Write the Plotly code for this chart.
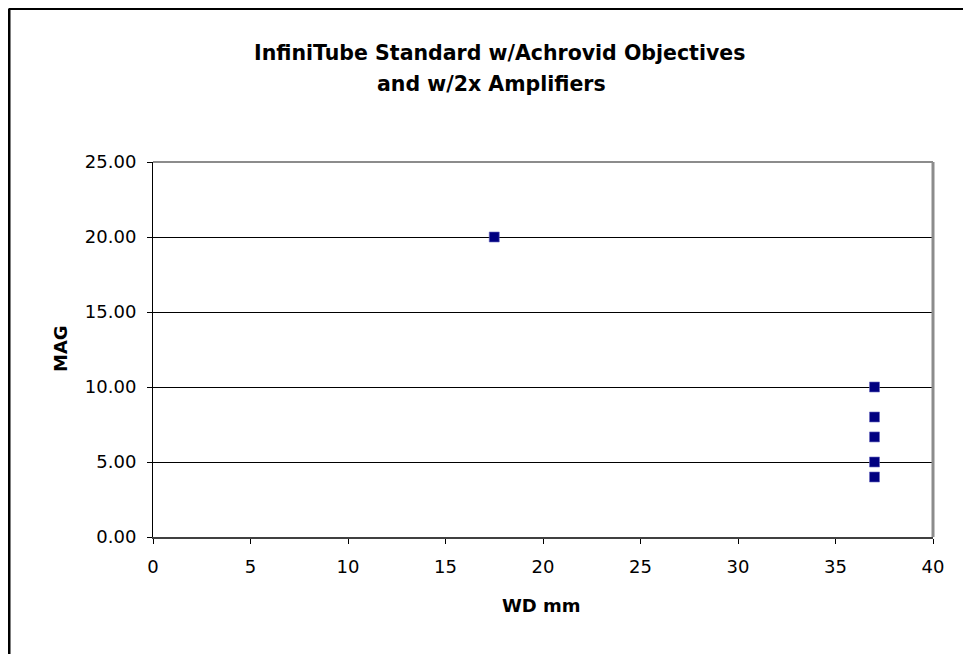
import plotly.graph_objects as go

# Data
wd_mm = [17.5, 37, 37, 37, 37, 37]
mag = [20.0, 10.0, 8.0, 6.67, 5.0, 4.0]

title_lines = ["InfiniTube Standard w/Achrovid Objectives", "and w/2x Amplifiers"]
x_title = "WD mm"
y_title = "MAG"

OFF = 8  # page body margin
W, H = 971 - OFF, 654 - OFF
L, R, T, B = 153 - OFF, 38, 162 - OFF, 117
pw, ph = W - L - R, H - T - B

def px(x):  # screen x -> paper
    return (x - OFF - L) / pw

def py(y):  # screen y -> paper
    return 1 - (y - OFF - T) / ph

fig = go.Figure()
fig.add_trace(go.Scatter(
    x=wd_mm, y=mag, mode="markers",
    marker=dict(symbol="square", size=10, color="#000080",
                line=dict(width=0.6, color="#6a6ac0")),
    showlegend=False, hoverinfo="x+y",
))

font = "DejaVu Sans, Arial, sans-serif"

fig.update_layout(
    width=W, height=H,
    margin=dict(l=L, r=R, t=T, b=B),
    paper_bgcolor="white", plot_bgcolor="white",
    font=dict(family=font, size=18, color="black"),
    showlegend=False,
    xaxis=dict(range=[0, 40], tick0=0, dtick=5, showgrid=False, zeroline=False,
               showline=True, linecolor="#404040", linewidth=2,
               ticks="outside", ticklen=5, tickcolor="black", tickwidth=1,
               tickfont=dict(size=18), ticklabelstandoff=7),
    yaxis=dict(range=[0, 25], tick0=0, dtick=5, tickformat=".2f",
               showgrid=True, gridcolor="black", gridwidth=1, zeroline=False,
               showline=True, linecolor="black", linewidth=1,
               ticks="outside", ticklen=5, tickcolor="black", tickwidth=1,
               tickfont=dict(size=18), ticklabelstandoff=7),
    shapes=[
        dict(type="line", xref="paper", yref="paper", x0=0, x1=1, y0=1, y1=1,
             line=dict(color="#8c8c8c", width=2), layer="above"),
        dict(type="line", xref="paper", yref="paper", x0=1, x1=1, y0=0, y1=1,
             line=dict(color="#8c8c8c", width=3), layer="above"),
        dict(type="line", xref="paper", yref="paper", x0=px(9), x1=px(980),
             y0=py(8.5), y1=py(8.5), line=dict(color="black", width=3)),
        dict(type="line", xref="paper", yref="paper", x0=px(9), x1=px(9),
             y0=py(8.5), y1=py(700), line=dict(color="black", width=3)),
    ],
    annotations=[
        dict(text="<b>%s</b>" % title_lines[0], xref="paper", yref="paper",
             x=px(499), y=py(53), xanchor="center", yanchor="middle",
             showarrow=False, font=dict(size=20.5)),
        dict(text="<b>%s</b>" % title_lines[1], xref="paper", yref="paper",
             x=px(491), y=py(84), xanchor="center", yanchor="middle",
             showarrow=False, font=dict(size=20.5)),
        dict(text="<b>%s</b>" % x_title, xref="paper", yref="paper",
             x=px(541), y=py(605), xanchor="center", yanchor="middle",
             showarrow=False, font=dict(size=18)),
        dict(text="<b>%s</b>" % y_title, xref="paper", yref="paper",
             x=px(60), y=py(349), xanchor="center", yanchor="middle",
             showarrow=False, textangle=-90, font=dict(size=18)),
    ],
)

fig.write_html("out.html")
